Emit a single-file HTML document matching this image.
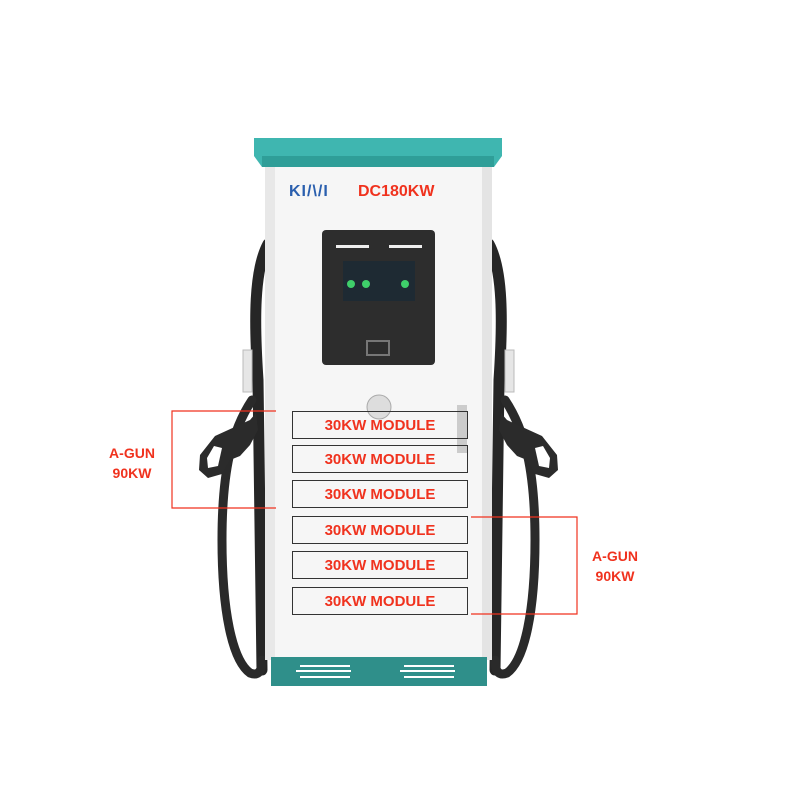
<!DOCTYPE html>
<html><head><meta charset="utf-8"><style>
html,body{margin:0;padding:0;background:#fff;}
body{width:800px;height:800px;position:relative;overflow:hidden;font-family:"Liberation Sans",sans-serif;}
.t{position:absolute;color:#f0321e;font-weight:bold;}
.m{position:absolute;left:292px;width:176px;height:28px;border:1px solid #333;box-sizing:border-box;color:#f0321e;font-weight:bold;font-size:15px;text-align:center;line-height:27px;}
</style></head><body>
<svg width="800" height="800" style="position:absolute;left:0;top:0">
<defs>
<g id="side">
 <path d="M268 244 C254 270 254 320 258 380 L262 670" stroke="#262626" stroke-width="11" fill="none" stroke-linecap="round"/>
 <path d="M252 400 C232 430 222 470 222 540 C222 610 232 660 250 673 C258 676 262 672 262 660" stroke="#2a2a2a" stroke-width="9" fill="none" stroke-linecap="round"/>
 <rect x="243" y="350" width="9" height="42" fill="#e6e6e6" stroke="#bbb"/>
 <path d="M256 413 L250 420 L215 436 L200 455 L199 470 L208 478 L222 474 L230 460 L240 456 L250 445 L258 430 Z" fill="#2b2b2b"/>
 <path d="M214 446 L222 448 L218 466 L208 468 L207 458 Z" fill="#fff"/>
</g>
</defs>
<use href="#side"/>
<use href="#side" transform="translate(757,0) scale(-1,1)"/>
<rect x="265" y="160" width="227" height="500" fill="#f6f6f6"/>
<rect x="265" y="160" width="10" height="500" fill="#e8e8e8"/>
<rect x="482" y="160" width="10" height="500" fill="#e4e4e4"/>
<path d="M254 138 L502 138 L502 156 L494 167 L262 167 L254 156 Z" fill="#3fb6b0"/>
<rect x="262" y="156" width="232" height="11" fill="#2f9e98"/>
<rect x="271" y="657" width="216" height="29" fill="#2f8f8a"/>
<g fill="#fff">
 <rect x="300" y="665" width="50" height="2"/><rect x="296" y="670" width="55" height="2"/><rect x="300" y="676" width="50" height="2"/>
 <rect x="404" y="665" width="50" height="2"/><rect x="400" y="670" width="55" height="2"/><rect x="404" y="676" width="50" height="2"/>
</g>
<rect x="322" y="230" width="113" height="135" rx="4" fill="#2d2d2d"/>
<rect x="336" y="245" width="33" height="3" fill="#eee"/><rect x="389" y="245" width="33" height="3" fill="#eee"/>
<rect x="343" y="261" width="72" height="40" fill="#1e2a33"/>
<circle cx="351" cy="284" r="4" fill="#3fcf6a"/><circle cx="366" cy="284" r="4" fill="#3fcf6a"/><circle cx="405" cy="284" r="4" fill="#3fcf6a"/>
<rect x="367" y="341" width="22" height="14" fill="none" stroke="#777" stroke-width="2"/>
<circle cx="379" cy="407" r="12" fill="#ddd" stroke="#aaa"/>
<rect x="457" y="405" width="10" height="48" fill="#ccc"/>
<g stroke="#f0321e" stroke-width="1.2" fill="none">
 <path d="M276 411 H172 V508 H276"/>
 <path d="M471 517 H577 V614 H471"/>
</g>
</svg>
<div class="t" style="left:289px;top:183px;font-size:16px;color:#2a5fae;letter-spacing:1px">KI/\/I</div>
<div class="t" style="left:358px;top:183px;font-size:16px">DC180KW</div>
<div class="m" style="top:411px">30KW MODULE</div>
<div class="m" style="top:445px">30KW MODULE</div>
<div class="m" style="top:480px">30KW MODULE</div>
<div class="m" style="top:516px">30KW MODULE</div>
<div class="m" style="top:551px">30KW MODULE</div>
<div class="m" style="top:587px">30KW MODULE</div>
<div class="t" style="left:99px;top:443px;width:66px;text-align:center;font-size:14px;line-height:20px">A-GUN<br>90KW</div>
<div class="t" style="left:582px;top:546px;width:66px;text-align:center;font-size:14px;line-height:20px">A-GUN<br>90KW</div>
</body></html>
